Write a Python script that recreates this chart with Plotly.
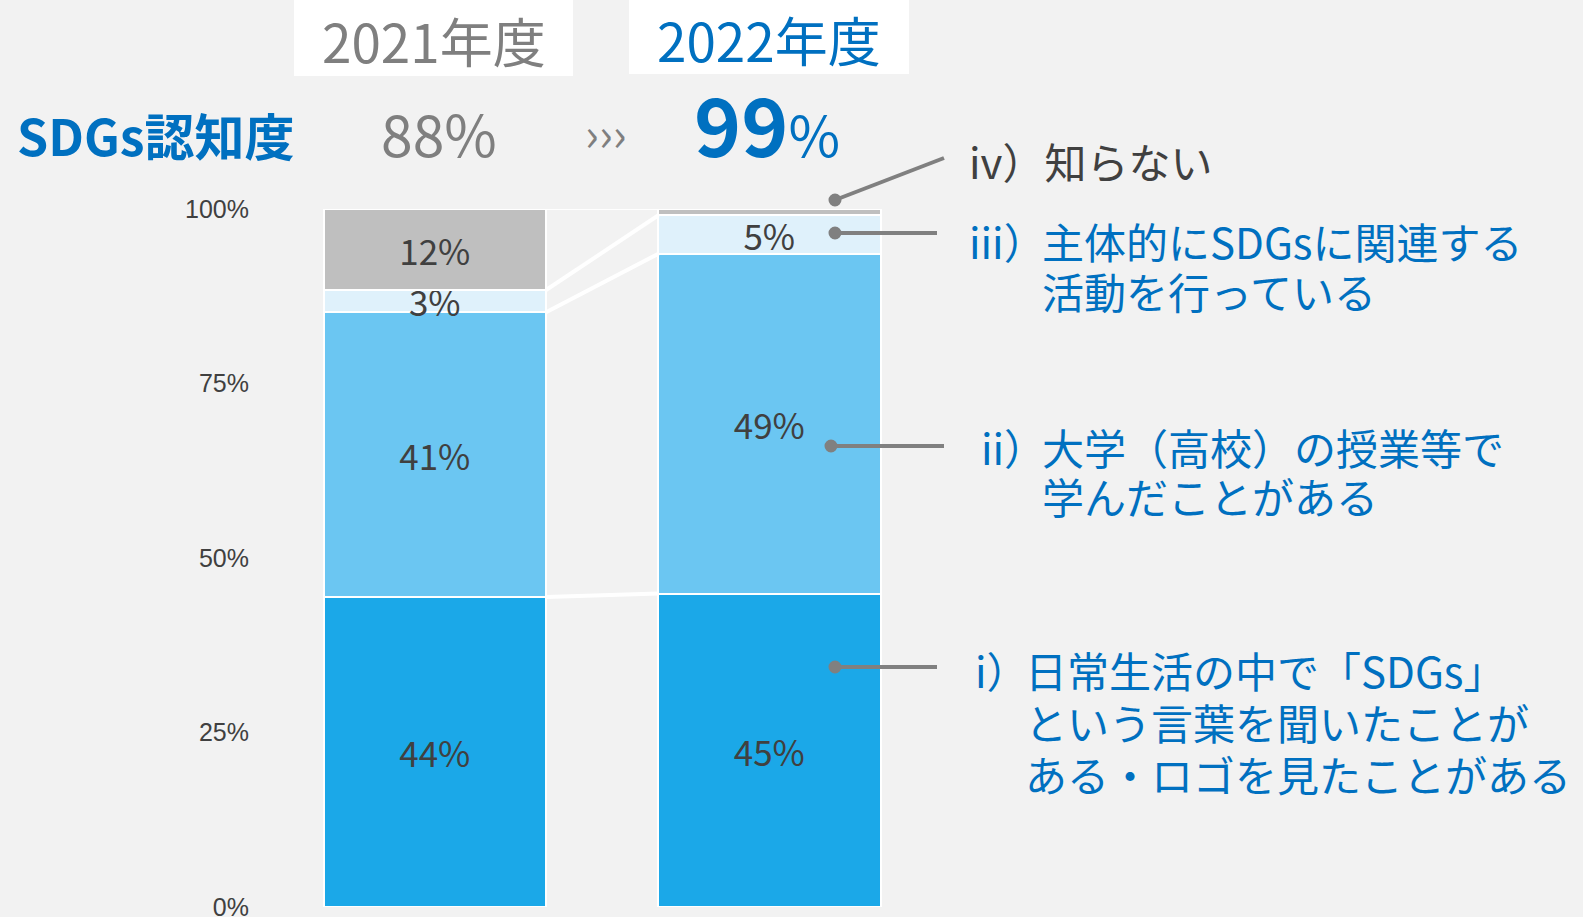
import numpy as np
import plotly.graph_objects as go

# データ (ピクセルから読み取った値, ラベルは丸めた表示値)
years = ["2021年度", "2022年度"]
segments = ["i", "ii", "iii", "iv"]
vals_2021 = [44.4, 40.8, 3.2, 11.6]
vals_2022 = [44.9, 48.7, 5.5, 0.9]
labels_2021 = ["44%", "41%", "3%", "12%"]
labels_2022 = ["45%", "49%", "5%", ""]
awareness = ["88%", "99%"]
yticks = [0, 25, 50, 75, 100]

seg_colors = ["#1BA8E8", "#6BC6F2", "#DFF1FB", "#BFBFBF"]
BLUE = "#0070C0"
GRAY = "#7F7F7F"
DARK = "#404040"
FONT = "Noto Sans CJK JP"

W, H = 1583, 917
L, R, T, B = 270, 0, 209, 10
BAR_W = 0.664
PX_PER_X = 334.5
x0_val = -(435 - L) / PX_PER_X
x1_val = x0_val + (W - L - R) / PX_PER_X


def px(x):
    return (x - L) / (W - L - R)


def py(y):
    return (H - B - y) / (H - T - B)


fig = go.Figure()

# 積み上げ棒
for i, seg in enumerate(segments):
    fig.add_trace(go.Bar(
        x=[0, 1], y=[vals_2021[i], vals_2022[i]],
        width=BAR_W,
        marker=dict(color=seg_colors[i], line=dict(color="white", width=2.5)),
        text=[labels_2021[i], labels_2022[i]],
        textposition="inside", insidetextanchor="middle",
        constraintext="none",
        textfont=dict(family=FONT, size=35, color=DARK),
        cliponaxis=False, showlegend=False, hoverinfo="skip", name=seg,
    ))

# 棒の間の接続線 (累積値から)
cum21 = np.cumsum(vals_2021)
cum22 = np.cumsum(vals_2022)
for a, b in zip(cum21, cum22):
    fig.add_trace(go.Scatter(
        x=[BAR_W / 2, 1 - BAR_W / 2], y=[a, b], mode="lines",
        line=dict(color="white", width=4 if a < 99 else 2),
        showlegend=False, hoverinfo="skip",
    ))

shapes = []
annotations = []

# 年度ヘッダー (白い箱)
for (x_a, x_b, y_b), yr, col in zip([(294, 573, 76), (629, 909, 74)], years, [GRAY, BLUE]):
    shapes.append(dict(type="rect", xref="paper", yref="paper",
                       x0=px(x_a), x1=px(x_b), y0=py(y_b), y1=py(0),
                       fillcolor="white", line=dict(width=0), layer="below"))
    annotations.append(dict(xref="paper", yref="paper", x=px((x_a + x_b) / 2), y=py(y_b / 2 + 2),
                            text=yr, showarrow=False, xanchor="center", yanchor="middle",
                            font=dict(family=FONT, size=53, color=col)))

annotations += [
    dict(xref="paper", yref="paper", x=px(15), y=py(134), text="<b>SDGs認知度</b>",
         showarrow=False, xanchor="left", yanchor="middle",
         font=dict(family=FONT, size=50, color=BLUE)),
    dict(xref="paper", yref="paper", x=px(439), y=py(132), text=awareness[0],
         showarrow=False, xanchor="center", yanchor="middle",
         font=dict(family=FONT, size=57, color=GRAY)),
    dict(xref="paper", yref="paper", x=px(606), y=py(131), text="›››",
         showarrow=False, xanchor="center", yanchor="middle",
         font=dict(family=FONT, size=46, color=GRAY)),
    dict(xref="paper", yref="paper", x=px(767), y=py(122),
         text=f"<b><span style='font-size:80px'>{awareness[1][:-1]}</span></b>%",
         showarrow=False, xanchor="center", yanchor="middle",
         font=dict(family=FONT, size=56, color=BLUE)),
]

# 右側ラベル (番号, 本文の行, 色, 本文x, 行y)
right_labels = [
    ("iii）", ["主体的にSDGsに関連する", "活動を行っている"], BLUE, 1040, [240, 290]),
    ("ii）", ["大学（高校）の授業等で", "学んだことがある"], BLUE, 1040, [446, 496]),
    ("i）", ["日常生活の中で「SDGs」", "という言葉を聞いたことが", "ある・ロゴを見たことがある"],
     BLUE, 1023, [669, 721, 773]),
]
annotations.append(dict(xref="paper", yref="paper", x=px(967), y=py(161), text="iv）知らない",
                        showarrow=False, xanchor="left", yanchor="middle",
                        font=dict(family=FONT, size=42, color=DARK)))
for num, lines, col, bx, ys in right_labels:
    annotations.append(dict(xref="paper", yref="paper", x=px(bx + 8), y=py(ys[0]), text=num,
                            showarrow=False, xanchor="right", yanchor="middle",
                            font=dict(family=FONT, size=42, color=col)))
    for ln, yy in zip(lines, ys):
        annotations.append(dict(xref="paper", yref="paper", x=px(bx), y=py(yy), text=ln,
                                showarrow=False, xanchor="left", yanchor="middle",
                                font=dict(family=FONT, size=42, color=col)))

# 引き出し線 (点 → ラベル)
leaders = [((835, 200), (944, 158)), ((835, 233), (937, 233)),
           ((831, 446), (944, 446)), ((835, 667), (937, 667))]
for (dx, dy), (ex, ey) in leaders:
    shapes.append(dict(type="line", xref="paper", yref="paper",
                       x0=px(dx), y0=py(dy), x1=px(ex), y1=py(ey),
                       line=dict(color="#808080", width=4)))
    r = 6.5
    shapes.append(dict(type="circle", xref="paper", yref="paper",
                       x0=px(dx - r), x1=px(dx + r), y0=py(dy + r), y1=py(dy - r),
                       fillcolor="#808080", line=dict(width=0)))

fig.update_layout(
    barmode="stack", bargap=0,
    width=W, height=H,
    margin=dict(l=L, r=R, t=T, b=B, pad=0),
    paper_bgcolor="#F2F2F2", plot_bgcolor="#F2F2F2",
    xaxis=dict(range=[x0_val, x1_val], visible=False, fixedrange=True, automargin=False),
    yaxis=dict(range=[0, 100], tickvals=yticks, ticktext=[f"{v}%" for v in yticks],
               showgrid=False, zeroline=False, showline=False, fixedrange=True,
               automargin=False, ticklabelstandoff=20, ticklabeloverflow="allow",
               tickfont=dict(family="Liberation Sans", size=25, color=DARK)),
    shapes=shapes, annotations=annotations,
)

fig.write_html("out.html", config={"displayModeBar": False},
               post_script="document.body.style.margin='0';")
